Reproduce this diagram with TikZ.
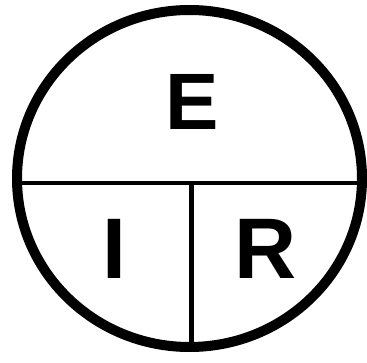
\documentclass[tikz,border=0pt]{standalone}
\usepackage{fontspec}
\setmainfont{Liberation Sans}
\usetikzlibrary{positioning}
\tikzset{letter/.style={font=\fontsize{#1}{#1}\selectfont\bfseries, inner sep=0pt},
	letter/.default=80}
\begin{document}
\begin{tikzpicture}[x=1pt,y=1pt]
		\useasboundingbox (0,0) rectangle (367,362);
		\coordinate (c) at (189.5,183.5);
		\coordinate (west) at (17,179);
		\coordinate (east) at (362,179);
		\coordinate (mid) at (191.5,179);
		\coordinate (south) at (191.5,15);
		\draw[line width=10pt] (c) ellipse (172.5 and 168.5);
		\draw[line width=4.5pt] (west) -- (east);
		\draw[line width=4.5pt] (mid) -- (south);
		\node[letter] (e) at (192,260.3) {E};
		\node[letter=86] (i) at (114.2,113.5) {I};
		\node[letter=86] (r) at (266,113.5) {R};
	\end{tikzpicture}
\end{document}
